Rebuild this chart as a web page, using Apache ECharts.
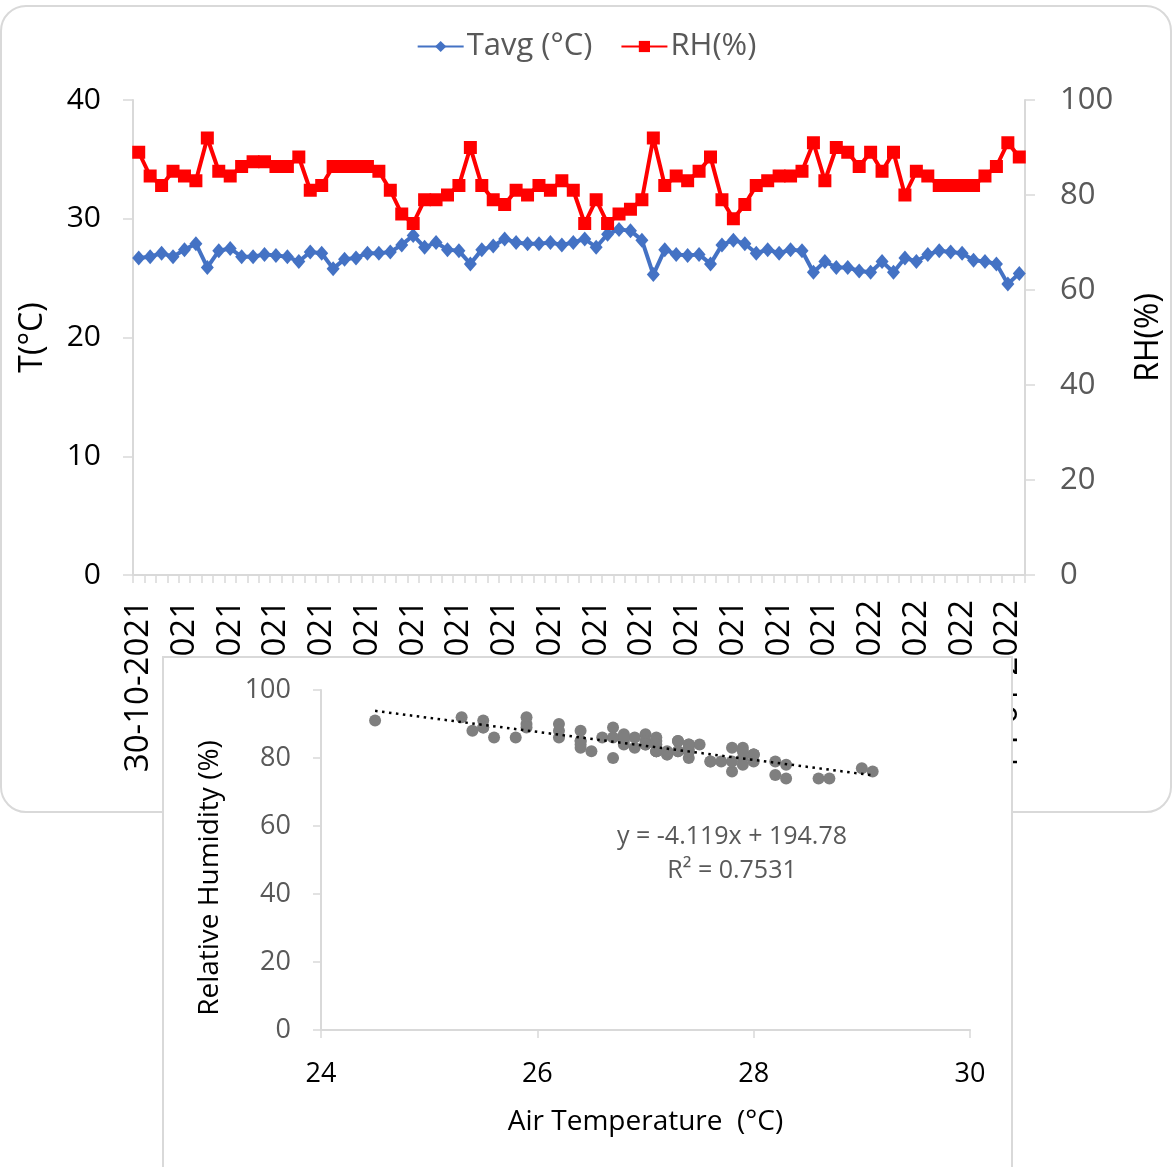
<!DOCTYPE html>
<html>
<head>
<meta charset="utf-8">
<script src="https://cdn.jsdelivr.net/npm/echarts@6/dist/echarts.min.js"></script>
<style>
  html, body { margin: 0; padding: 0; background: #ffffff; width: 1173px; height: 1167px; overflow: hidden; }
  #frame { position: absolute; left: 0px; top: 5px; width: 1172px; height: 808px; box-sizing: border-box; border: 2px solid #d9d9d9; border-radius: 26px; }
  #main { position: absolute; left: 0; top: 0; width: 1173px; height: 1167px; }
  #inset { position: absolute; left: 162px; top: 656px; width: 851px; height: 530px; box-sizing: border-box; border: 2px solid #d9d9d9; background: #ffffff; }
  #insetChart { position: absolute; left: 0; top: 0; width: 847px; height: 526px; }
</style>
</head>
<body>
<div id="frame"></div>
<div id="main"></div>
<div id="inset"><div id="insetChart"></div></div>
<script>
// ---------------- DATA ----------------
const dates = [
  "30-10-2021","31-10-2021","01-11-2021","02-11-2021","03-11-2021","04-11-2021","05-11-2021","06-11-2021",
  "07-11-2021","08-11-2021","09-11-2021","10-11-2021","11-11-2021","12-11-2021","13-11-2021","14-11-2021",
  "15-11-2021","16-11-2021","17-11-2021","18-11-2021","19-11-2021","20-11-2021","21-11-2021","22-11-2021",
  "23-11-2021","24-11-2021","25-11-2021","26-11-2021","27-11-2021","28-11-2021","29-11-2021","30-11-2021",
  "01-12-2021","02-12-2021","03-12-2021","04-12-2021","05-12-2021","06-12-2021","07-12-2021","08-12-2021",
  "09-12-2021","10-12-2021","11-12-2021","12-12-2021","13-12-2021","14-12-2021","15-12-2021","16-12-2021",
  "17-12-2021","18-12-2021","19-12-2021","20-12-2021","21-12-2021","22-12-2021","23-12-2021","24-12-2021",
  "25-12-2021","26-12-2021","27-12-2021","28-12-2021","29-12-2021","30-12-2021","31-12-2021","01-01-2022",
  "02-01-2022","03-01-2022","04-01-2022","05-01-2022","06-01-2022","07-01-2022","08-01-2022","09-01-2022",
  "10-01-2022","11-01-2022","12-01-2022","13-01-2022","14-01-2022","15-01-2022"
];
const tavg = [
  26.7, 26.8, 27.1, 26.8, 27.4, 27.9, 25.9, 27.3, 27.5, 26.8,
  26.8, 27.0, 26.9, 26.8, 26.4, 27.2, 27.1, 25.8, 26.6, 26.7,
  27.1, 27.1, 27.2, 27.8, 28.6, 27.6, 28.0, 27.4, 27.3, 26.2,
  27.4, 27.7, 28.3, 28.0, 27.9, 27.9, 28.0, 27.8, 28.0, 28.3,
  27.6, 28.7, 29.1, 29.0, 28.2, 25.3, 27.4, 27.0, 26.9, 27.0,
  26.2, 27.8, 28.2, 27.9, 27.1, 27.4, 27.1, 27.4, 27.3, 25.5,
  26.4, 25.9, 25.9, 25.6, 25.5, 26.4, 25.5, 26.7, 26.4, 27.0,
  27.3, 27.2, 27.1, 26.5, 26.4, 26.2, 24.5, 25.4
];
const rh = [
  89, 84, 82, 85, 84, 83, 92, 85, 84, 86,
  87, 87, 86, 86, 88, 81, 82, 86, 86, 86,
  86, 85, 81, 76, 74, 79, 79, 80, 82, 90,
  82, 79, 78, 81, 80, 82, 81, 83, 81, 74,
  79, 74, 76, 77, 79, 92, 82, 84, 83, 85,
  88, 79, 75, 78, 82, 83, 84, 84, 85, 91,
  83, 90, 89, 86, 89, 85, 89, 80, 85, 84,
  82, 82, 82, 82, 84, 86, 91, 88
];
const tTicks = [0, 10, 20, 30, 40];
const rhTicks = [0, 20, 40, 60, 80, 100];
// trend line reported in the chart: y = -4.119x + 194.78, R² = 0.7531
const trendSlope = -4.119;
const trendIntercept = 194.78;
const trendLabel = ["y = -4.119x + 194.78", "R\u00b2 = 0.7531"];

const FONT = "Open Sans";

// ---------------- TOP CHART ----------------
const main = echarts.init(document.getElementById('main'), null, { renderer: 'canvas' });
main.setOption({
  animation: false,
  textStyle: { fontFamily: FONT },
  legend: {
    top: 26, left: 'center', itemGap: 28, itemWidth: 46, itemHeight: 14,
    textStyle: { fontSize: 31, color: '#595959', fontFamily: FONT, padding: [0, 0, 0, -2] },
    data: ['Tavg (\u00b0C)', 'RH(%)']
  },
  grid: { left: 133, right: 148, top: 100, height: 475, containLabel: false },
  xAxis: {
    type: 'category', data: dates, boundaryGap: true,
    axisLine: { lineStyle: { color: '#d9d9d9', width: 2 } },
    axisTick: { show: true, interval: 0, length: 8, lineStyle: { color: '#d9d9d9', width: 1.5 } },
    axisLabel: { interval: 3, rotate: 90, fontSize: 33, color: '#000000', margin: 25, fontFamily: FONT },
    splitLine: { show: false }
  },
  yAxis: [
    {
      type: 'value', min: 0, max: 40, interval: 10, position: 'left',
      name: 'T(\u00b0C)', nameLocation: 'middle', nameGap: 84,
      nameTextStyle: { fontSize: 32, color: '#000000', fontFamily: FONT },
      axisLine: { show: true, lineStyle: { color: '#d9d9d9', width: 2 } },
      axisTick: { show: true, length: 10, lineStyle: { color: '#d9d9d9', width: 1.5 } },
      axisLabel: { fontSize: 30, color: '#000000', margin: 32, fontFamily: FONT },
      splitLine: { show: false }
    },
    {
      type: 'value', min: 0, max: 100, interval: 20, position: 'right',
      name: 'RH(%)', nameLocation: 'middle', nameGap: 108,
      nameTextStyle: { fontSize: 32, color: '#000000', fontFamily: FONT },
      axisLine: { show: true, lineStyle: { color: '#d9d9d9', width: 2 } },
      axisTick: { show: true, length: 10, lineStyle: { color: '#d9d9d9', width: 1.5 } },
      axisLabel: { fontSize: 31, color: '#595959', margin: 35, fontFamily: FONT },
      splitLine: { show: false }
    }
  ],
  series: [
    {
      name: 'Tavg (\u00b0C)', type: 'line', yAxisIndex: 0, data: tavg,
      symbol: 'diamond', symbolSize: [13, 15], showAllSymbol: true,
      lineStyle: { color: '#4472c4', width: 4 },
      itemStyle: { color: '#4472c4' }
    },
    {
      name: 'RH(%)', type: 'line', yAxisIndex: 1, data: rh,
      symbol: 'rect', symbolSize: 13, showAllSymbol: true,
      lineStyle: { color: '#ff0000', width: 4 },
      itemStyle: { color: '#ff0000' }
    }
  ]
});

// ---------------- INSET SCATTER ----------------
const scatterData = tavg.map((t, i) => [t, rh[i]]);
const tMin = Math.min.apply(null, tavg), tMax = Math.max.apply(null, tavg);
const trendData = [[tMin, trendSlope * tMin + trendIntercept], [tMax, trendSlope * tMax + trendIntercept]];

const inset = echarts.init(document.getElementById('insetChart'), null, { renderer: 'canvas' });
inset.setOption({
  animation: false,
  textStyle: { fontFamily: FONT },
  grid: { left: 157, top: 32, width: 649, height: 340, containLabel: false },
  xAxis: {
    type: 'value', min: 24, max: 30, interval: 2,
    name: 'Air Temperature  (\u00b0C)', nameLocation: 'middle', nameGap: 78,
    nameTextStyle: { fontSize: 28, color: '#000000', fontFamily: FONT },
    axisLine: { show: true, lineStyle: { color: '#d9d9d9', width: 2 } },
    axisTick: { show: true, length: 8, lineStyle: { color: '#d9d9d9', width: 1.5 } },
    axisLabel: { fontSize: 27, color: '#000000', margin: 31, fontFamily: FONT },
    splitLine: { show: false }
  },
  yAxis: {
    type: 'value', min: 0, max: 100, interval: 20,
    axisLine: { show: true, lineStyle: { color: '#d9d9d9', width: 2 } },
    axisTick: { show: true, length: 8, lineStyle: { color: '#d9d9d9', width: 1.5 } },
    axisLabel: { fontSize: 27, color: '#595959', margin: 30, fontFamily: FONT },
    splitLine: { show: false }
  },
  graphic: [
    { type: 'text', x: 46, y: 220, rotation: Math.PI / 2,
      style: { text: 'Relative Humidity (%)', fontSize: 28, fill: '#000000', fontFamily: FONT, align: 'center', verticalAlign: 'middle' } },
    { type: 'text', x: 568, y: 179,
      style: { text: trendLabel[0], fontSize: 25, fill: '#595959', fontFamily: FONT, align: 'center', verticalAlign: 'middle' } },
    { type: 'text', x: 568, y: 213,
      style: { text: trendLabel[1], fontSize: 25, fill: '#595959', fontFamily: FONT, align: 'center', verticalAlign: 'middle' } }
  ],
  series: [
    {
      type: 'scatter', data: scatterData, symbol: 'circle', symbolSize: 12,
      itemStyle: { color: '#7f7f7f', opacity: 1 }, z: 2
    },
    {
      type: 'line', data: trendData, symbol: 'none',
      lineStyle: { color: '#000000', width: 2.5, type: [2.5, 4.5] }, z: 3
    }
  ]
});
</script>
</body>
</html>
